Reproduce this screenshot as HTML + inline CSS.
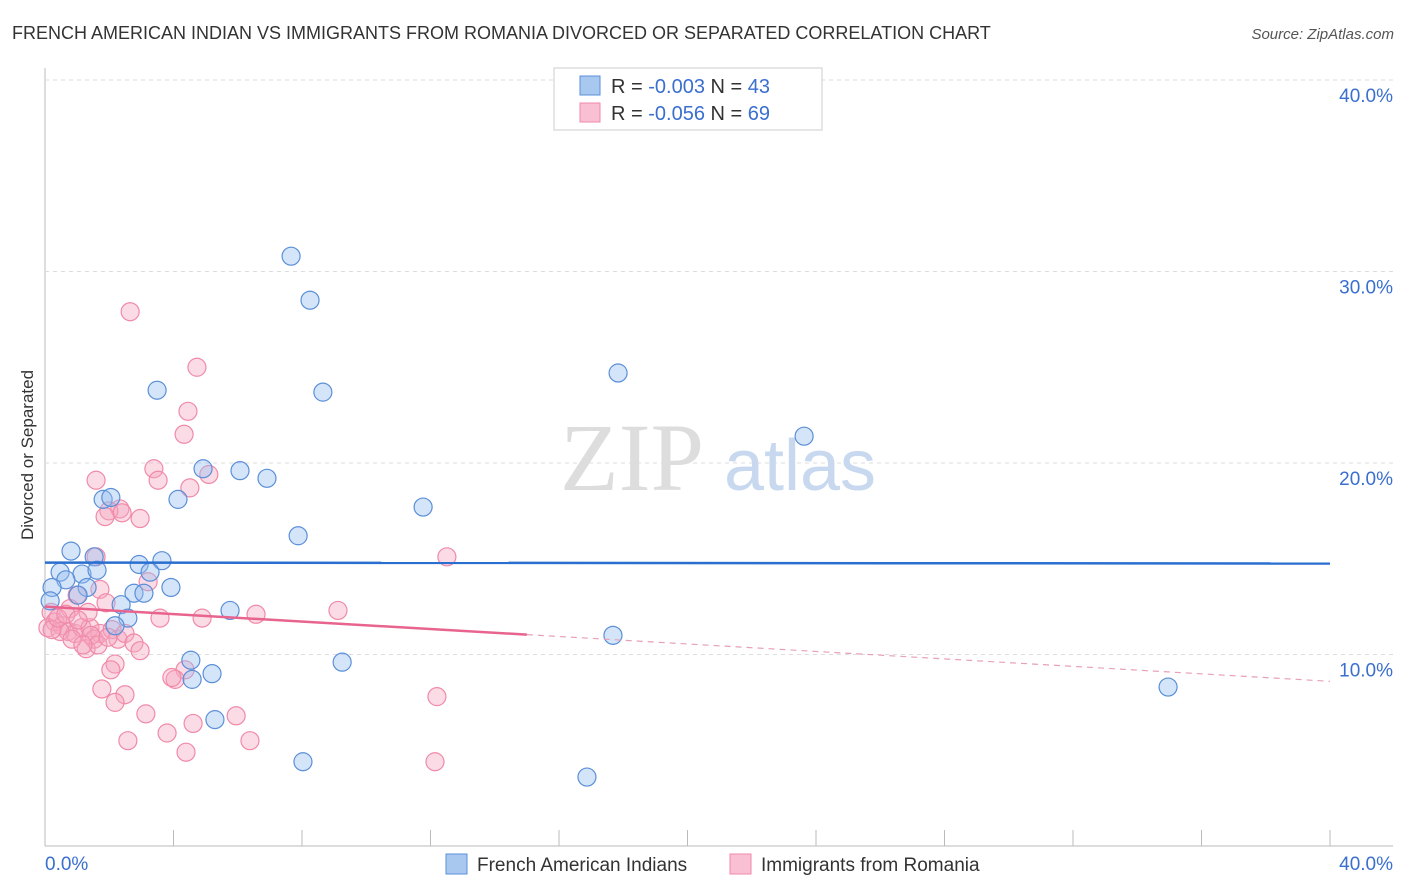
<!DOCTYPE html>
<html><head><meta charset="utf-8"><style>
body{margin:0;background:#fff;font-family:"Liberation Sans",sans-serif}
svg{display:block}
</style></head><body>
<svg width="1406" height="892" xmlns="http://www.w3.org/2000/svg">
<text x="12" y="39" font-size="18" fill="#333">FRENCH AMERICAN INDIAN VS IMMIGRANTS FROM ROMANIA DIVORCED OR SEPARATED CORRELATION CHART</text>
<text x="1394" y="39" font-size="15" fill="#555" font-style="italic" text-anchor="end">Source: ZipAtlas.com</text>
<text transform="translate(33,455) rotate(-90)" font-size="17" fill="#333" text-anchor="middle">Divorced or Separated</text>
<g id="grid"></g>
<g><text x="632" y="490" font-size="96" font-family="Liberation Serif" fill="#ddd" text-anchor="middle">ZIP</text><text x="800" y="490" font-size="72" fill="#c8d8ef" text-anchor="middle">atlas</text></g>
<g id="marks"></g>
<g id="trends"></g>
<g>
<rect x="554" y="68" width="268" height="62" fill="#fff" stroke="#ccc"/>
<rect x="580" y="76" width="20" height="19" fill="#a9c8f0" stroke="#5b8fd8"/>
<rect x="580" y="103" width="20" height="19" fill="#f8c0d2" stroke="#f08aa8"/>
<text x="611" y="93" font-size="20" fill="#333">R = <tspan fill="#3a6fd0">-0.003</tspan>   N = <tspan fill="#3a6fd0">43</tspan></text>
<text x="611" y="120" font-size="20" fill="#333">R = <tspan fill="#3a6fd0">-0.056</tspan>   N = <tspan fill="#3a6fd0">69</tspan></text>
</g>
<g>
<rect x="446" y="854" width="21" height="20" fill="#a9c8f0" stroke="#5b8fd8"/>
<text x="477" y="871" font-size="19" fill="#333">French American Indians</text>
<rect x="730" y="854" width="21" height="20" fill="#f8c0d2" stroke="#f08aa8"/>
<text x="761" y="871" font-size="19" fill="#333">Immigrants from Romania</text>
</g>
</svg>
<script>
const yTicks=[10,20,30,40];
const xTickLabels=["0.0%","40.0%"];
const blueX=[7.66,8.25,3.49,8.65,17.84,23.63,4.92,6.07,6.91,4.14,1.81,2.05,11.77,7.88,0.81,1.53,3.64,2.93,3.27,0.47,1.15,1.62,0.65,0.22,1.31,3.92,2.77,3.08,1.03,2.37,5.76,2.58,2.18,17.68,4.54,9.25,5.2,4.58,5.29,8.03,16.87,34.96,0.16];
const blueY=[30.8,28.5,23.8,23.7,24.7,21.4,19.7,19.6,19.2,18.1,18.1,18.2,17.7,16.2,15.4,15.1,14.9,14.7,14.3,14.3,14.2,14.4,13.9,13.5,13.5,13.5,13.2,13.2,13.1,12.6,12.3,11.9,11.5,11.0,9.7,9.6,9.0,8.7,6.6,4.4,3.6,8.3,12.8];
const pinkX=[2.65,4.73,4.45,4.33,3.39,5.1,1.59,3.52,4.51,2.33,1.99,1.87,2.96,2.4,1.59,12.51,3.21,1.71,1.0,1.9,0.78,3.58,4.89,6.57,9.12,0.19,0.31,0.09,0.53,0.72,0.93,1.15,1.4,1.71,2.09,2.27,2.49,2.77,2.96,1.53,1.28,0.47,0.84,0.22,0.4,1.34,0.65,1.43,1.65,2.18,2.05,4.36,4.05,3.95,1.77,2.49,12.2,2.18,3.14,5.95,3.8,4.61,2.58,6.38,4.39,12.14,1.18,1.96,1.03];
const pinkY=[27.9,25.0,22.7,21.5,19.7,19.4,19.1,19.1,18.7,17.6,17.5,17.2,17.1,17.4,15.1,15.1,13.8,13.4,13.1,12.7,12.4,11.9,11.9,12.1,12.3,12.2,11.7,11.4,11.5,11.2,11.1,11.4,11.4,11.1,11.3,10.8,11.1,10.6,10.2,10.8,10.3,11.2,10.8,11.3,11.9,12.2,12.1,11.0,10.5,9.5,9.2,9.2,8.7,8.8,8.2,7.9,7.8,7.5,6.9,6.8,5.9,6.4,5.5,5.5,4.9,4.4,10.5,10.9,11.8];
const blueTrend=[14.8,14.75];
const pinkTrend=[12.5,8.6];
const pinkSolidEnd=15;
const NS="http://www.w3.org/2000/svg";
const sx=v=>45+v*32.125, sy=v=>846-v*19.15;
function mk(t,a,p){const e=document.createElementNS(NS,t);for(const k in a)e.setAttribute(k,a[k]);p.appendChild(e);return e;}
const grid=document.getElementById('grid');
const ax=mk('line',{x1:45,y1:68,x2:45,y2:846,stroke:'#bbb'},grid);


const bx=mk('line',{x1:45,y1:846,x2:1393,y2:846,stroke:'#bbb'},grid);


yTicks.forEach(t=>{
 const g=mk('line',{x1:45,y1:sy(t),x2:1393,y2:sy(t),stroke:'#ddd','stroke-dasharray':'4,4'},grid);
 
 
 const l=mk('text',{x:1393,y:sy(t)+22,'font-size':19,fill:'#3a6fd0','text-anchor':'end'},grid);
 l.textContent=t.toFixed(1)+'%';
 
 
});
for(let i=0;i<=10;i++){
 const t=mk('line',{x1:sx(i*4),y1:830,x2:sx(i*4),y2:846,stroke:'#bbb'},grid);
 
 
}
const xl0=mk('text',{x:45,y:870,'font-size':19,fill:'#3a6fd0'},grid);xl0.textContent=xTickLabels[0];


const xl1=mk('text',{x:1393,y:870,'font-size':19,fill:'#3a6fd0','text-anchor':'end'},grid);xl1.textContent=xTickLabels[1];


const marks=document.getElementById('marks');
pinkX.forEach((x,i)=>{
 const c=mk('circle',{cx:sx(x),cy:sy(pinkY[i]),r:9,fill:'rgba(245,165,192,0.4)',stroke:'#f08aa8','stroke-width':1.2},marks);
 
 
});
blueX.forEach((x,i)=>{
 const c=mk('circle',{cx:sx(x),cy:sy(blueY[i]),r:9,fill:'rgba(150,190,240,0.4)',stroke:'#5b8fd8','stroke-width':1.2},marks);
 
 
});
const tr=document.getElementById('trends');
const bt=mk('line',{x1:sx(0),y1:sy(blueTrend[0]),x2:sx(40),y2:sy(blueTrend[1]),stroke:'#2a6fd0','stroke-width':2.5},tr);


const pm=pinkTrend[0]+(pinkTrend[1]-pinkTrend[0])*pinkSolidEnd/40;
const pt=mk('line',{x1:sx(0),y1:sy(pinkTrend[0]),x2:sx(pinkSolidEnd),y2:sy(pm),stroke:'#e8648e','stroke-width':2.5},tr);


const pd=mk('line',{x1:sx(pinkSolidEnd),y1:sy(pm),x2:sx(40),y2:sy(pinkTrend[1]),stroke:'#e8a0b8','stroke-width':1.2,'stroke-dasharray':'6,5'},tr);


</script>
</body></html>
